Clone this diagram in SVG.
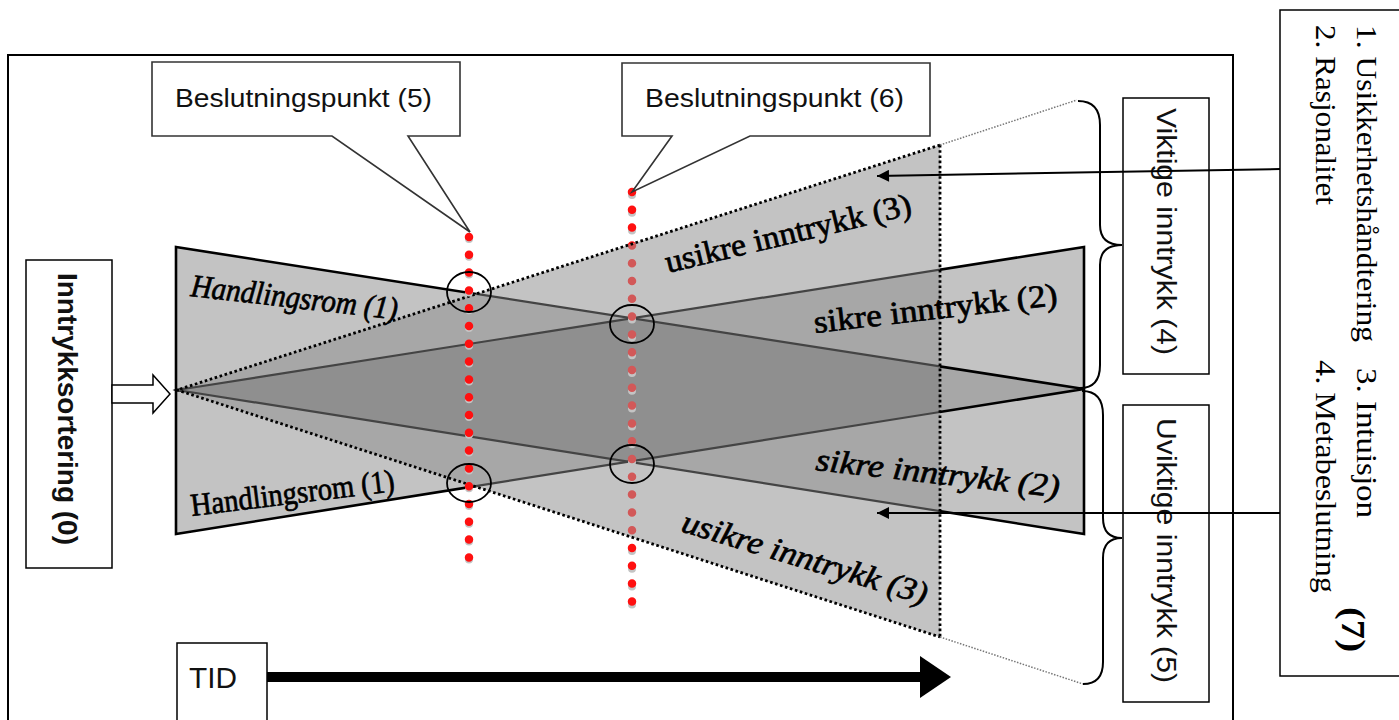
<svg xmlns="http://www.w3.org/2000/svg" width="1399" height="720" viewBox="0 0 1399 720">
  <style>
    .box{fill:#fff;stroke:#000;stroke-width:1.5}
    .callout{fill:#fff;stroke:#333;stroke-width:1.6;stroke-linejoin:miter}
    .sans{font-family:"Liberation Sans",Arial,sans-serif;fill:#111}
    .serif{font-family:"Liberation Serif","Times New Roman",serif;fill:#000}
    .lbl{font-size:32px;stroke:#000;stroke-width:0.7}
    .it{font-style:italic}
    .red{fill:none;stroke-width:8.5;stroke-linecap:round;stroke-dasharray:0 17.8}
    .shadow{fill:none;stroke:#c4c4c4;stroke-width:8;stroke-linecap:round;stroke-dasharray:0 17.8}
    .dots{fill:none;stroke:#000;stroke-width:2.8;stroke-dasharray:2.6 2.6}
    .faint{fill:none;stroke:#777;stroke-width:1.5;stroke-dasharray:1.5 1.5}
    .brace{fill:none;stroke:#000;stroke-width:2}
    .ring{fill:none;stroke:#000;stroke-width:1.8}
    .conn{stroke:#000;stroke-width:2;fill:none}
  </style>
  <defs>
    <polygon id="triA" points="177,390 940,145 940,637"/>
    <polygon id="triB" points="176,247 176,534 1084,389"/>
    <polygon id="triC" points="1084,247 1084,534 177,390"/>
    <clipPath id="clipA"><polygon points="177,390 940,145 940,637"/></clipPath>
    <clipPath id="clipB"><polygon points="176,247 176,534 1084,389"/></clipPath>
    <mask id="outA" maskUnits="userSpaceOnUse" x="0" y="0" width="1399" height="720">
      <rect x="0" y="0" width="1399" height="720" fill="#fff"/>
      <polygon points="177,390 940,145 940,637" fill="#000"/>
    </mask>
    <marker id="ah" viewBox="0 0 10 10" refX="10" refY="5" markerUnits="userSpaceOnUse" markerWidth="15" markerHeight="12" orient="auto">
      <path d="M0,0 L10,5 L0,10 Z" fill="#000"/>
    </marker>
  </defs>

  <!-- outer frame -->
  <path id="frame" d="M8,720 V55 H1233 V720" fill="none" stroke="#000" stroke-width="2"/>

  <!-- overlapping wedges: single, double and triple coverage -->
  <g id="wedges">
    <use href="#triA" fill="#c3c3c3"/>
    <use href="#triB" fill="#c3c3c3"/>
    <use href="#triC" fill="#c3c3c3"/>
    <g fill="#a7a7a7">
      <polygon points="176,247 176,534 1084,389" clip-path="url(#clipA)"/>
      <polygon points="1084,247 1084,534 177,390" clip-path="url(#clipA)"/>
      <polygon points="1084,247 1084,534 177,390" clip-path="url(#clipB)"/>
    </g>
    <g clip-path="url(#clipA)">
      <polygon points="1084,247 1084,534 177,390" clip-path="url(#clipB)" fill="#8f8f8f"/>
    </g>
    <g mask="url(#outA)" fill="none" stroke="#000" stroke-width="2.6">
      <polygon points="176,247 176,534 1084,389"/>
      <polygon points="1084,247 1084,534 177,390"/>
    </g>
    <g clip-path="url(#clipA)" fill="none" stroke="#444" stroke-width="2.2">
      <polygon points="176,247 176,534 1084,389"/>
      <polygon points="1084,247 1084,534 177,390"/>
    </g>
  </g>

  <!-- decision line (6), partly seen through the uncertain wedge -->
  <g id="decision6-line">
    <line x1="632" y1="195" x2="632" y2="620" class="shadow"/>
    <line x1="632" y1="192" x2="632" y2="618" class="red" stroke="#ff1010" mask="url(#outA)"/>
    <line x1="632" y1="192" x2="632" y2="618" class="red" stroke="#d25858" clip-path="url(#clipA)"/>
  </g>

  <!-- dotted outline of the uncertain wedge and its faint extension -->
  <g id="uncertain-outline">
    <polyline points="940,145 177,390 940,637" class="dots"/>
    <line x1="940" y1="145" x2="940" y2="637" class="dots"/>
    <line x1="940" y1="145" x2="1077" y2="100" class="faint"/>
    <line x1="940" y1="637" x2="1083" y2="684" class="faint"/>
  </g>

  <!-- decision line (5) -->
  <g id="decision5-line">
    <line x1="469" y1="239" x2="469" y2="561" class="shadow"/>
    <line x1="469" y1="237" x2="469" y2="559" class="red" stroke="#ff1010"/>
  </g>

  <!-- crossing markers -->
  <g id="crossings">
    <ellipse cx="469" cy="292" rx="22" ry="20" class="ring"/>
    <ellipse cx="632" cy="324" rx="22" ry="19" class="ring"/>
    <ellipse cx="469" cy="483" rx="22" ry="19" class="ring"/>
    <ellipse cx="632" cy="464" rx="22" ry="19" class="ring"/>
  </g>

  <!-- wedge labels -->
  <g id="wedge-labels" class="serif lbl">
    <text class="it" transform="translate(190,296) rotate(6.5)" textLength="208" lengthAdjust="spacingAndGlyphs">Handlingsrom (1)</text>
    <text transform="translate(192,516) rotate(-7)" textLength="205" lengthAdjust="spacingAndGlyphs">Handlingsrom (1)</text>
    <text transform="translate(668,273) rotate(-13.5)" textLength="252" lengthAdjust="spacingAndGlyphs">usikre inntrykk (3)</text>
    <text transform="translate(815,333) rotate(-6.6)" textLength="245" lengthAdjust="spacingAndGlyphs">sikre inntrykk (2)</text>
    <text class="it" transform="translate(815,470) rotate(6.4)" textLength="245" lengthAdjust="spacingAndGlyphs">sikre inntrykk (2)</text>
    <text class="it" transform="translate(680,531) rotate(16.8)" textLength="255" lengthAdjust="spacingAndGlyphs">usikre inntrykk (3)</text>
  </g>

  <!-- callouts -->
  <g id="callout5">
    <path class="callout" d="M152,62 H460 V136 H408 L470,232 L332,136 H152 Z"/>
    <text class="sans" x="175" y="107" font-size="26" textLength="257" lengthAdjust="spacingAndGlyphs">Beslutningspunkt (5)</text>
  </g>
  <g id="callout6">
    <path class="callout" d="M622,63 H930 V136 H750 L632,192 L672,136 H622 Z"/>
    <text class="sans" x="645" y="107" font-size="26" textLength="259" lengthAdjust="spacingAndGlyphs">Beslutningspunkt (6)</text>
  </g>

  <!-- impression sorting -->
  <g id="sorting">
    <rect class="box" x="26" y="260" width="86" height="308"/>
    <text class="sans" font-weight="bold" font-size="28" transform="translate(58,273) rotate(90)" textLength="272" lengthAdjust="spacingAndGlyphs">Inntrykksortering (0)</text>
  </g>

  <!-- time -->
  <g id="time">
    <rect class="box" x="177" y="643" width="90" height="90"/>
    <text class="sans" x="189" y="688" font-size="30" textLength="48" lengthAdjust="spacingAndGlyphs">TID</text>
  </g>

  <!-- braces and impression boxes -->
  <g id="brace-important">
    <path class="brace" d="M1078,101 Q1100,101 1100,125 L1100,225 Q1100,245 1122,245 Q1100,245 1100,265 L1100,365 Q1100,388 1080,388"/>
  </g>
  <g id="brace-unimportant">
    <path class="brace" d="M1082,391 Q1103,391 1103,415 L1103,518 Q1103,538 1122,538 Q1103,538 1103,558 L1103,662 Q1103,684 1083,684"/>
  </g>
  <g id="important">
    <rect class="box" x="1123" y="98" width="86" height="276"/>
    <text class="sans" font-size="27" transform="translate(1157,108) rotate(90)" textLength="247" lengthAdjust="spacingAndGlyphs">Viktige inntrykk (4)</text>
  </g>
  <g id="unimportant">
    <rect class="box" x="1123" y="405" width="86" height="297"/>
    <text class="sans" font-size="27" transform="translate(1157,418) rotate(90)" textLength="265" lengthAdjust="spacingAndGlyphs">Uviktige inntrykk (5)</text>
  </g>

  <!-- decision modes -->
  <g id="modes">
    <rect class="box" x="1280" y="10" width="140" height="666"/>
    <g class="serif" font-size="30">
      <text transform="translate(1357,25) rotate(90)" textLength="317" lengthAdjust="spacingAndGlyphs">1. Usikkerhetshåndtering</text>
      <text transform="translate(1316,25) rotate(90)" textLength="180" lengthAdjust="spacingAndGlyphs">2. Rasjonalitet</text>
      <text transform="translate(1357,368) rotate(90)" textLength="150" lengthAdjust="spacingAndGlyphs">3. Intuisjon</text>
      <text transform="translate(1316,360) rotate(90)" textLength="233" lengthAdjust="spacingAndGlyphs">4. Metabeslutning</text>
      <text transform="translate(1342,607) rotate(90)" font-weight="bold" font-size="34" textLength="45" lengthAdjust="spacingAndGlyphs">(7)</text>
    </g>
  </g>

  <!-- connectors -->
  <g id="connectors">
    <polygon points="112,385 153,385 153,375 170,394 153,413 153,403 112,403" fill="#fff" stroke="#000" stroke-width="1.5"/>
    <line class="conn" x1="1280" y1="169" x2="877" y2="176" marker-end="url(#ah)"/>
    <line class="conn" x1="1280" y1="513" x2="877" y2="513" marker-end="url(#ah)"/>
    <line x1="267" y1="677" x2="922" y2="677" stroke="#000" stroke-width="10"/>
    <polygon points="920,656 951,677 920,698" fill="#000"/>
  </g>
</svg>
